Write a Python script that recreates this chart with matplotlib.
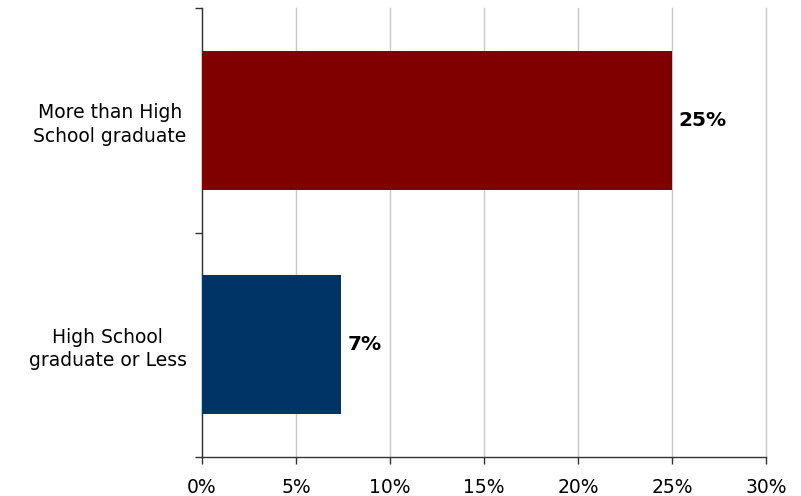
import matplotlib
matplotlib.use("Agg")
import matplotlib.pyplot as plt
import numpy as np
from matplotlib.ticker import FixedLocator

categories = ["High School\ngraduate or Less", "More than High\nSchool graduate"]
values = [7.4, 25.0]
labels = ["7%", "25%"]
colors = ["#003366", "#800000"]
xticks = [0, 5, 10, 15, 20, 25, 30]

fig = plt.figure(figsize=(8.01, 4.96), dpi=100)
ax = fig.add_axes([0.2522, 0.0786, 0.7041, 0.9053])

y = np.arange(len(categories))
bars = ax.barh(y, values, height=0.62, color=colors, zorder=3)
for b, v, t in zip(bars, values, labels):
    ax.text(v + 0.35, b.get_y() + b.get_height() / 2, t, va="center", ha="left",
            fontsize=14.5, fontweight="bold", color="black")

ax.set_xlim(0, 30)
ax.set_ylim(-0.5, 1.5)
ax.set_xticks(xticks)
ax.set_xticklabels([f"{v}%" for v in xticks], fontsize=13.5)
ax.xaxis.grid(True, color="#c8c8c8", lw=1, zorder=0)
for gl in ax.get_xgridlines():
    gl.set_clip_on(False)

ax.set_yticks(y)
ax.set_yticklabels(categories, fontsize=13.5, multialignment="center", linespacing=1.3)
ax.tick_params(axis="y", which="major", length=0, pad=11)
ax.yaxis.set_minor_locator(FixedLocator([-0.5, 0.5, 1.5]))
ax.tick_params(axis="y", which="minor", length=5, width=1, color="#333333")
ax.tick_params(axis="x", length=5, width=1, color="#333333", pad=10)

for s in ["top", "right"]:
    ax.spines[s].set_visible(False)
for s in ["left", "bottom"]:
    ax.spines[s].set_color("#333333")
    ax.spines[s].set_linewidth(1)

fig.savefig("out.png", dpi=100)
